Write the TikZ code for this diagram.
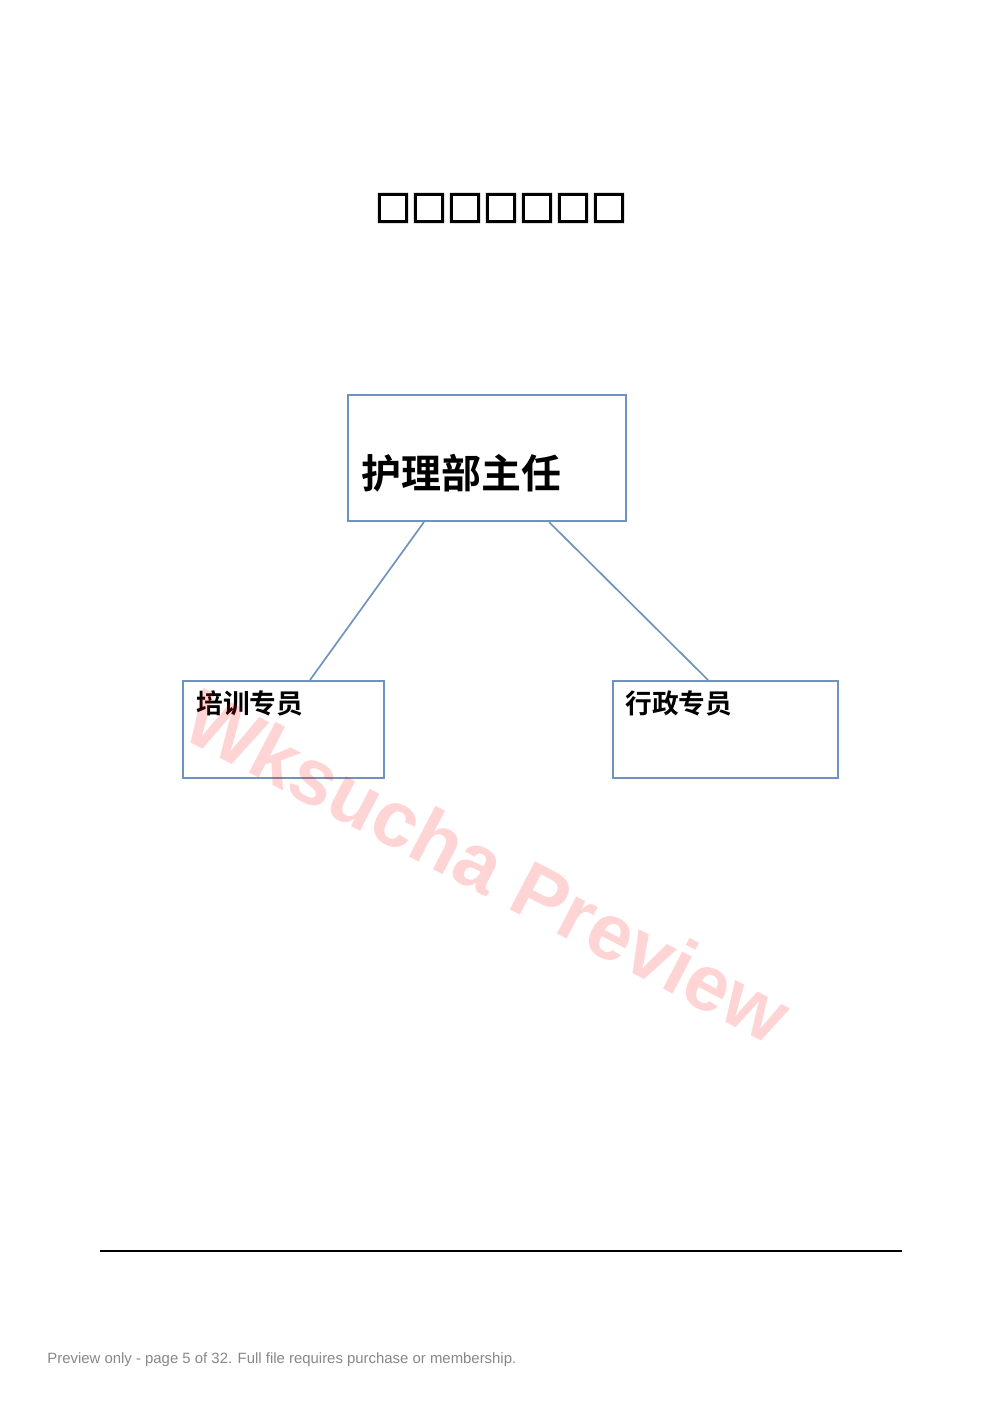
\documentclass[tikz,border=0pt]{standalone}
\usepackage{fontspec}
\setmainfont{Liberation Sans}
\newfontfamily\cjk{Noto Sans CJK SC}[BoldFont={Noto Sans CJK SC Bold}]
\newfontfamily\tofu{Noto Sans CJK SC Bold}[FakeBold=4]
\usetikzlibrary{shapes.geometric}
\definecolor{boxblue}{RGB}{112,146,190}
\definecolor{notegray}{RGB}{135,135,135}
\tikzstyle{chiefbox} = [rectangle, draw=boxblue, line width=1.2pt, minimum width=166.8pt, minimum height=75.6pt, inner sep=0pt]
\tikzstyle{staffbox} = [rectangle, draw=boxblue, line width=1.2pt, minimum height=58.2pt, inner sep=0pt]
\tikzstyle{bigtext} = [font=\cjk\bfseries\fontsize{24}{28}\selectfont, inner sep=0pt]
\tikzstyle{smalltext} = [font=\cjk\bfseries\fontsize{16}{19}\selectfont, inner sep=0pt]
\tikzstyle{link} = [draw=boxblue, line width=1pt]

\begin{document}
\begin{tikzpicture}[x=0.6pt, y=-0.6pt]

	\useasboundingbox (0,0) rectangle (993,1404);

	\node (title) [font=\tofu\fontsize{21.6}{24}\selectfont, inner sep=0pt] at (501,208) {□□□□□□□};

	\node (chief) [chiefbox, label={[bigtext, anchor=west, xshift=8.4pt, yshift=-9pt]west:护理部主任}] at (487,458) {};
	\node (trainer) [staffbox, minimum width=120.6pt, label={[smalltext, anchor=west, xshift=8.4pt, yshift=-13.8pt]north west:培训专员}] at (283.5,729.5) {};
	\node (admin) [staffbox, minimum width=135pt, label={[smalltext, anchor=west, xshift=7.8pt, yshift=-13.8pt]north west:行政专员}] at (725.5,729.5) {};

	\draw [link] ([xshift=46.2pt]chief.south west) -- ([xshift=76.8pt]trainer.north west);
	\draw [link] ([xshift=121.2pt]chief.south west) -- ([xshift=57.6pt]admin.north west);

	\coordinate (ruleleft) at (100,1251);
	\coordinate (ruleright) at (902,1251);
	\draw [line width=0.8pt] (ruleleft) -- (ruleright);

	\node (note) [anchor=base west, inner sep=0pt, text=notegray, font=\fontsize{8.95}{11}\selectfont] at (47,1363) {Preview only - page 5 of 32. Full file requires purchase or membership.};

	\node (mark) [rotate=-27.6, text=red, text opacity=0.17, font=\bfseries\fontsize{47.5}{56}\selectfont, inner sep=0pt] at (488,866) {Wksucha Preview};

\end{tikzpicture}
\end{document}
